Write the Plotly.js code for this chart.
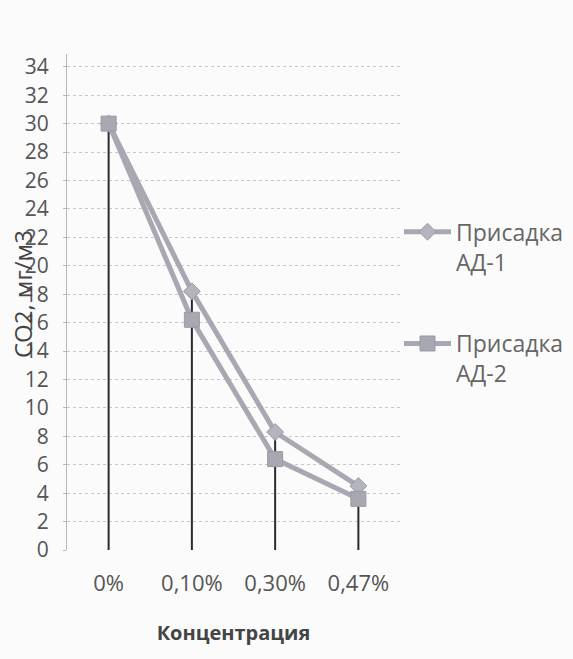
<!DOCTYPE html>
<html><head><meta charset="utf-8">
<script src="https://cdn.plot.ly/plotly-3.0.1.min.js"></script>
<style>body{margin:0;background:#fbfbfc}</style>
</head><body><div id="chart" style="width:573px;height:659px"></div>
<script>
const categories = ['0%', '0,10%', '0,30%', '0,47%'];
const seriesAD1 = [30, 18.2, 8.3, 4.5];
const seriesAD2 = [30, 16.2, 6.4, 3.6];
const seriesNames = ['Присадка<br>АД-1', 'Присадка<br>АД-2'];
const yTicks = [0,2,4,6,8,10,12,14,16,18,20,22,24,26,28,30,32,34];
const yTitle = 'CO2, мг/м3';
const xTitle = 'Концентрация';

// drop lines from each category's top point to zero
const dropX = [], dropY = [];
categories.forEach((c, i) => {
  dropX.push(c, c, null);
  dropY.push(0, Math.max(seriesAD1[i], seriesAD2[i]), null);
});

const traces = [
  {x: dropX, y: dropY, mode: 'lines', line: {color: '#2a2a33', width: 2}, showlegend: false, hoverinfo: 'skip'},
  {x: categories, y: seriesAD1, name: seriesNames[0], legendgroup: 'a', mode: 'lines+markers',
   line: {color: '#a8a8b2', width: 5}, marker: {symbol: 'diamond', size: 13, color: '#b4b4bc', line: {color: '#9a9aa4', width: 1}}},
  {x: categories, y: seriesAD2, name: seriesNames[1], legendgroup: 'b', mode: 'lines+markers',
   line: {color: '#a8a8b2', width: 5}, marker: {symbol: 'square', size: 15, color: '#a8a8b2', line: {color: '#9a9aa4', width: 1}}}
];

const layout = {
  width: 573, height: 659,
  paper_bgcolor: '#fbfbfc', plot_bgcolor: '#fbfbfc',
  margin: {l: 67, r: 173, t: 54, b: 109, autoexpand: false},
  font: {family: 'Open Sans, sans-serif', color: '#555'},
  xaxis: {type: 'category', range: [-0.5, 3.5], showgrid: false, zeroline: false, showline: false,
    ticks: '', tickfont: {size: 22, color: '#555'}, ticklabelstandoff: 18,
    title: {text: '<b>' + xTitle + '</b>', font: {size: 20, color: '#444'}, standoff: 29}},
  yaxis: {range: [0, 34.9], tickvals: yTicks, showgrid: true, gridcolor: '#c8c8cc', griddash: 'dot', gridwidth: 1,
    zeroline: false, showline: true, linecolor: '#b8b8bc', linewidth: 1, ticks: 'outside', ticklen: 3, tickcolor: '#b8b8bc',
    tickfont: {size: 21, color: '#555'}, ticklabelstandoff: 10},
  annotations: [{text: yTitle, textangle: -90, xref: 'paper', yref: 'paper', x: -0.135, y: 0.516,
    xanchor: 'center', yanchor: 'middle', showarrow: false, font: {size: 24, color: '#444'}}],
  legend: {x: 0.997, xanchor: 'left', y: 0.685, yanchor: 'top', bgcolor: 'rgba(0,0,0,0)', valign: 'top',
    font: {size: 23, color: '#666'}, tracegroupgap: 49, itemwidth: 47},
  showlegend: true
};

Plotly.newPlot('chart', traces, layout, {displayModeBar: false, staticPlot: true});
</script></body></html>
